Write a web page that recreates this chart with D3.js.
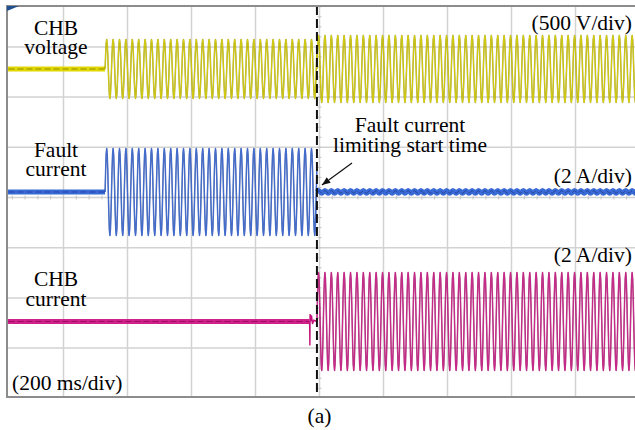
<!DOCTYPE html>
<html>
<head>
<meta charset="utf-8">
<script src="https://cdn.jsdelivr.net/npm/d3@7"></script>
<style>
  body { margin: 0; background: #fff; }
  svg { display: block; font-family: 'Liberation Serif', 'Times New Roman', serif; }
</style>
</head>
<body>
<script>
// time base: 200 ms/div, screen is 10 div wide and 8 div high
var timeTicks = [-800, -600, -400, -200, 0, 200, 400, 600, 800];
var levelTicks = [-3, -2, -1, 0, 1, 2, 3];
var limitStart = -8; // ms, fault current limiting start (dashed marker)

var channelNames = [['CHB', 'voltage'], ['Fault', 'current'], ['CHB', 'current']];
var channelScales = ['(500 V/div)', '(2 A/div)', '(2 A/div)'];
var unitsPerDiv = [500, 2, 2];
var zeroLevelDiv = [2.56, 0.11, -2.47];

// one 50 Hz cycle (20 ms) as the scope samples it, per unit
var cycleMs = 20;
var cycleShape = [0, 0.5, 0.87, 1, 0.87, 0.5, 0, -0.5, -0.87, -1, -0.87, -0.5];

// [start ms, end ms, peak amplitude] for each channel
var voltageSegments = [[-1000, -670, 0], [-670, -8, 294], [-8, 1000, 334]];
var faultSegments = [[-1000, -670, 0], [-670, -8, 1.73], [-8, 1000, 0.05]];
var chbSegments = [[-1000, -31, 0], [-8, 1000, 1.95]];
// switching glitch on CHB current just before limiting [ms, A]
var chbGlitch = [[-31, 0], [-30, -0.96], [-29.5, 0.3], [-28, 0], [-25, 0.25], [-22, -0.1], [-18, 0.05], [-8, 0]];

var width = 635, height = 430;
var sLeft = 7, sTop = 6, sRight = 635, sBottom = 397;
var fontSize = 21.5;

var svg = d3.select('body').append('svg')
  .attr('width', width)
  .attr('height', height);

var x = d3.scaleLinear().domain([-1000, 1000]).range([-0.5, 639.5]);
var yDiv = d3.scaleLinear().domain([-4, 4]).range([398.3, -3.3]);

function yChan(c) {
  return function (v) { return yDiv(zeroLevelDiv[c] + v / unitsPerDiv[c]); };
}

var defs = svg.append('defs');
defs.append('clipPath')
    .attr('id', 'screen')
  .append('rect')
    .attr('x', sLeft).attr('y', sTop)
    .attr('width', sRight - sLeft).attr('height', sBottom - sTop);

// grid
var grid = svg.append('g').attr('clip-path', 'url(#screen)');
grid.selectAll('line.v')
    .data(timeTicks)
  .enter().append('line')
    .attr('x1', function (d) { return x(d); })
    .attr('x2', function (d) { return x(d); })
    .attr('y1', sTop).attr('y2', sBottom)
    .attr('stroke', '#d2d2d2').attr('stroke-width', 1.5);
grid.selectAll('line.h')
    .data(levelTicks)
  .enter().append('line')
    .attr('y1', function (d) { return yDiv(d); })
    .attr('y2', function (d) { return yDiv(d); })
    .attr('x1', sLeft).attr('x2', sRight)
    .attr('stroke', '#d2d2d2').attr('stroke-width', 1.5);

// minor ticks on the centre axes
grid.selectAll('line.mx')
    .data(d3.range(-1000, 1000, 40))
  .enter().append('line')
    .attr('x1', function (d) { return x(d); })
    .attr('x2', function (d) { return x(d); })
    .attr('y1', yDiv(0) - 2).attr('y2', yDiv(0) + 2)
    .attr('stroke', '#c4c4c4').attr('stroke-width', 1);
grid.selectAll('line.my')
    .data(d3.range(-4, 4, 0.2))
  .enter().append('line')
    .attr('y1', function (d) { return yDiv(d); })
    .attr('y2', function (d) { return yDiv(d); })
    .attr('x1', x(0) - 2).attr('x2', x(0) + 2)
    .attr('stroke', '#c4c4c4').attr('stroke-width', 1);

// traces
var traces = svg.append('g').attr('clip-path', 'url(#screen)');
var line = d3.line();

function drawChannel(c, segments, color, dark) {
  var yc = yChan(c);
  var step = cycleMs / cycleShape.length;
  segments.forEach(function (s) {
    var pts = [];
    var i = 0;
    for (var t = s[0]; t <= s[1] + 1e-9; t += step, i++) {
      pts.push([x(t), yc(s[2] * cycleShape[i % cycleShape.length])]);
    }
    var flat = s[2] / unitsPerDiv[c] < 0.2;
    if (flat) {
      traces.append('path')
        .attr('d', line(pts))
        .attr('fill', 'none')
        .attr('stroke', color)
        .attr('stroke-width', 5);
      traces.append('path')
        .attr('d', line(pts))
        .attr('fill', 'none')
        .attr('stroke', dark)
        .attr('stroke-width', 1)
        .attr('stroke-dasharray', '6,3');
    } else {
      // thin dark edge under a bright core, like the scope's persistence
      traces.append('path')
        .attr('d', line(pts))
        .attr('fill', 'none')
        .attr('stroke', dark)
        .attr('stroke-opacity', 0.75)
        .attr('stroke-width', 1.5)
        .attr('stroke-linejoin', 'round');
      traces.append('path')
        .attr('d', line(pts))
        .attr('fill', 'none')
        .attr('stroke', color)
        .attr('stroke-width', 0.8)
        .attr('stroke-linejoin', 'round');
    }
  });
}

drawChannel(0, voltageSegments, '#e0d800', '#8a8400');
drawChannel(1, faultSegments, '#3a6ad6', '#22449a');
drawChannel(2, chbSegments, '#d0208a', '#8c0c58');

traces.append('path')
  .attr('d', line(chbGlitch.map(function (d) { return [x(d[0]), yChan(2)(d[1])]; })))
  .attr('fill', 'none')
  .attr('stroke', '#c4107a')
  .attr('stroke-width', 1.4);

// limiting start marker
svg.append('line')
  .attr('x1', x(limitStart)).attr('x2', x(limitStart))
  .attr('y1', sTop).attr('y2', sBottom)
  .attr('stroke', '#111').attr('stroke-width', 2)
  .attr('stroke-dasharray', '9,4');

// screen border
svg.append('path')
  .attr('d', 'M' + sRight + ',' + sTop + 'H' + sLeft + 'V' + sBottom + 'H' + sRight)
  .attr('fill', 'none')
  .attr('stroke', '#8c8c8c').attr('stroke-width', 2);
svg.append('path')
  .attr('d', 'M' + sLeft + ',' + sTop + 'h12l-12,5z')
  .attr('fill', '#1f4f8f');

// channel labels
var labelY = [[35, 54], [157, 176], [286, 306]];
channelNames.forEach(function (n, c) {
  svg.append('text')
    .attr('x', 56).attr('y', labelY[c][0])
    .attr('text-anchor', 'middle')
    .attr('font-size', fontSize)
    .text(n[0]);
  svg.append('text')
    .attr('x', 56).attr('y', labelY[c][1])
    .attr('text-anchor', 'middle')
    .attr('font-size', fontSize)
    .text(n[1]);
});

var scaleY = [30, 183, 262];
channelScales.forEach(function (s, c) {
  svg.append('text')
    .attr('x', 632).attr('y', scaleY[c])
    .attr('text-anchor', 'end')
    .attr('font-size', fontSize)
    .text(s);
});

svg.append('text')
  .attr('x', 12).attr('y', 390)
  .attr('font-size', fontSize)
  .text('(200 ms/div)');

// annotation
svg.append('text')
  .attr('x', 410).attr('y', 132)
  .attr('text-anchor', 'middle')
  .attr('font-size', fontSize)
  .text('Fault current');
svg.append('text')
  .attr('x', 410).attr('y', 152)
  .attr('text-anchor', 'middle')
  .attr('font-size', fontSize)
  .text('limiting start time');

defs.append('marker')
    .attr('id', 'arrow')
    .attr('viewBox', '0 -5 10 10')
    .attr('refX', 10)
    .attr('refY', 0)
    .attr('markerWidth', 7)
    .attr('markerHeight', 7)
    .attr('orient', 'auto')
  .append('path')
    .attr('d', 'M0,-4L10,0L0,4Z')
    .attr('fill', '#111');

svg.append('line')
  .attr('x1', 352).attr('y1', 163)
  .attr('x2', x(limitStart) + 5).attr('y2', yChan(1)(0) - 7)
  .attr('stroke', '#111').attr('stroke-width', 1.2)
  .attr('marker-end', 'url(#arrow)');

svg.append('text')
  .attr('x', x(0)).attr('y', 423)
  .attr('text-anchor', 'middle')
  .attr('font-size', fontSize)
  .text('(a)');
</script>
</body>
</html>
